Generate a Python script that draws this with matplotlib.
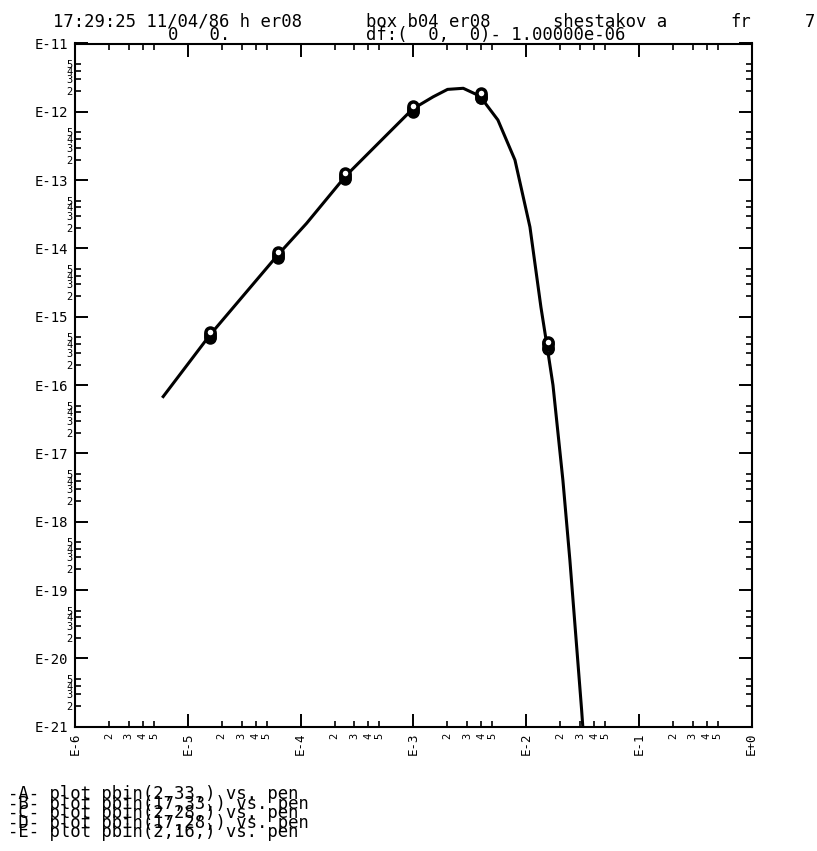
import matplotlib
matplotlib.use('Agg')
import matplotlib.pyplot as plt
from matplotlib.ticker import FixedLocator, FixedFormatter

plt.rcParams['font.family'] = ['DejaVu Sans Mono', 'DejaVu Sans']

# ---- data ----
# curve (pbin vs pen)
pen_curve = [5.94e-6, 1.57e-5, 6.27e-5, 1.13e-4, 2.51e-4, 5.41e-4, 9.86e-4, 1.50e-3,
             2.01e-3, 2.77e-3, 3.89e-3, 5.62e-3, 7.96e-3, 1.081e-2, 1.352e-2, 1.528e-2,
             1.730e-2, 2.118e-2, 2.443e-2, 3.105e-2, 3.18e-2]
pbin_curve = [6.52e-17, 5.40e-16, 8.0e-15, 2.33e-14, 1.15e-13, 4.09e-13, 1.10e-12, 1.66e-12,
              2.13e-12, 2.21e-12, 1.70e-12, 7.59e-13, 1.97e-13, 2.06e-14, 1.39e-15, 3.85e-16,
              1.0e-16, 4.06e-18, 2.74e-19, 1.75e-21, 1.0e-21]

# marker positions of the five series
pen_marks = [1.5625e-5, 6.25e-5, 2.5e-4, 1.0e-3, 4.0e-3, 1.56e-2]
pbin_A = [5.4e-16, 8.0e-15, 1.15e-13, 1.10e-12, 1.70e-12, 3.85e-16]
pbin_B = [5.9e-16, 8.8e-15, 1.26e-13, 1.21e-12, 1.87e-12, 4.3e-16]
pbin_C = [5.1e-16, 7.5e-15, 1.08e-13, 1.03e-12, 1.60e-12, 3.5e-16]
pbin_D = [5.6e-16, 8.4e-15, 1.20e-13, 1.15e-12, 1.78e-12, 4.1e-16]
pbin_E = [4.9e-16, 7.3e-15, 1.05e-13, 1.00e-12, 1.58e-12, 3.4e-16]

legend_lines = ["-A- plot pbin(2,33,) vs. pen",
                "-B- plot pbin(17,33,) vs. pen",
                "-C- plot pbin(2,28,) vs. pen",
                "-D- plot pbin(17,28,) vs. pen",
                "-E- plot pbin(2,16,) vs. pen"]

x_major = [1e-6, 1e-5, 1e-4, 1e-3, 1e-2, 1e-1, 1e0]
x_major_labels = ['E-6', 'E-5', 'E-4', 'E-3', 'E-2', 'E-1', 'E+0']
y_major = [1e-21, 1e-20, 1e-19, 1e-18, 1e-17, 1e-16, 1e-15, 1e-14, 1e-13, 1e-12, 1e-11]
y_major_labels = ['E-21', 'E-20', 'E-19', 'E-18', 'E-17', 'E-16', 'E-15', 'E-14',
                  'E-13', 'E-12', 'E-11']
minor_mult = [2, 3, 4, 5]
minor_labels = ['2', '3', '4', '5']

# ---- figure ----
W, H = 817, 851
fig = plt.figure(figsize=(W / 100, H / 100), dpi=100)
ax = fig.add_axes([75 / W, 1 - 726.7 / H, 676.7 / W, 683.2 / H])
ax.set_xscale('log')
ax.set_yscale('log')
ax.set_xlim(1e-6, 1e0)
ax.set_ylim(1e-21, 1e-11)

ax.plot(pen_curve, pbin_curve, color='black', lw=2.2, solid_capstyle='butt', zorder=3)
for ys in [pbin_E, pbin_C, pbin_A, pbin_D, pbin_B]:
    ax.plot(pen_marks, ys, linestyle='none', marker='o', ms=6.5, mew=2.5,
            mfc='white', mec='black', zorder=4)

x_minor = [m * d for d in x_major[:-1] for m in minor_mult]
x_minor_lab = [l for d in x_major[:-1] for l in minor_labels]
y_minor = [m * d for d in y_major[:-1] for m in minor_mult]
y_minor_lab = [l for d in y_major[:-1] for l in minor_labels]

ax.xaxis.set_major_locator(FixedLocator(x_major))
ax.xaxis.set_major_formatter(FixedFormatter(x_major_labels))
ax.xaxis.set_minor_locator(FixedLocator(x_minor))
ax.xaxis.set_minor_formatter(FixedFormatter(x_minor_lab))
ax.yaxis.set_major_locator(FixedLocator(y_major))
ax.yaxis.set_major_formatter(FixedFormatter(y_major_labels))
ax.yaxis.set_minor_locator(FixedLocator(y_minor))
ax.yaxis.set_minor_formatter(FixedFormatter(y_minor_lab))

ax.tick_params(which='major', direction='in', length=9.5, width=1.4,
               top=True, right=True, color='black')
ax.tick_params(which='minor', direction='in', length=4.5, width=1.2,
               top=True, right=True, color='black')
ax.tick_params(axis='y', which='major', labelsize=10, pad=5)
ax.tick_params(axis='y', which='minor', labelsize=7.5, pad=2)
ax.tick_params(axis='x', which='major', labelsize=9, pad=4, labelrotation=90)
ax.tick_params(axis='x', which='minor', labelsize=7.5, pad=4, labelrotation=90)

for s in ax.spines.values():
    s.set_linewidth(1.5)

# ---- header texts ----
fs = 12.4
def ftext(x, y, s, **kw):
    fig.text(x / W, 1 - y / H, s, fontsize=fs, ha='left', va='baseline', **kw)

ftext(53, 27, "17:29:25 11/04/86 h er08")
ftext(168, 39.5, "0   0.")
ftext(366, 27, "box b04 er08")
ftext(366, 39.5, "df:(  0,  0)- 1.00000e-06")
ftext(553, 27, "shestakov a")
ftext(730, 27, "fr")
ftext(805, 27, "7")

# ---- legend lines ----
for i, line in enumerate(legend_lines):
    ftext(8, 799 + 9.6 * i, line)

fig.savefig('out.png', dpi=100)
